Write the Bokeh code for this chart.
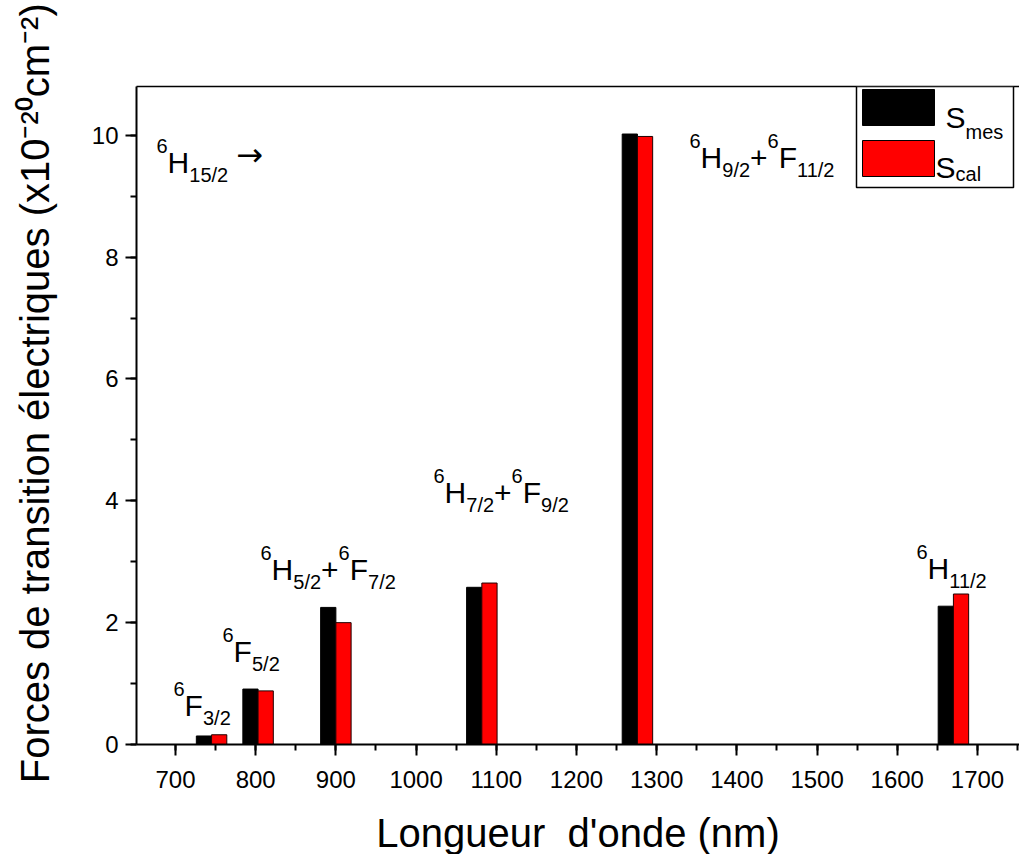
import math
from bokeh.plotting import figure
from bokeh.models import (Range1d, SingleIntervalTicker, FixedTicker, LinearAxis,
                          Label, BoxAnnotation, ColumnDataSource)
from bokeh.transform import dodge
from bokeh.embed import file_html
from bokeh.resources import INLINE

# ---------------- data ----------------
wavelength_nm = [745, 803, 900, 1082, 1276, 1670]
s_mes = [0.14, 0.91, 2.25, 2.58, 10.02, 2.27]
s_cal = [0.16, 0.88, 2.00, 2.65, 9.98, 2.47]
series_names = ["mes", "cal"]
x_tick_interval = 100
y_tick_interval = 2
x_title = "Longueur\u00a0 d'onde (nm)"
y_title = "Forces de transition électriques (x10⁻²⁰cm⁻²)"

# ---------------- layout ----------------
FONT = "Liberation Sans"
BAR_W = 19
FRAME_L, FRAME_R, FRAME_T, FRAME_B = 136, 1019, 86, 744   # canvas pixels
FW, FH = FRAME_R - FRAME_L, FRAME_B - FRAME_T
PX_PER_NM = 0.802
X_START = 651.4
X_END = X_START + FW / PX_PER_NM
Y_START, Y_END = 0.0, 10.8


def px2x(px):
    return X_START + (px - FRAME_L) * (X_END - X_START) / FW


def px2y(py):
    return Y_START + (FRAME_B - py) * (Y_END - Y_START) / FH


# Arial / Liberation Sans advance widths (1/1000 em)
W = {' ': 278, '(': 333, ')': 333, '+': 584, '-': 333, '/': 278, "'": 191,
     'F': 611, 'H': 722, 'L': 556, 'S': 667, 'a': 556, 'c': 500, 'd': 556,
     'e': 556, 'é': 556, 'g': 556, 'i': 222, 'l': 222, 'm': 833, 'n': 556,
     'o': 556, 'q': 556, 'r': 333, 's': 500, 't': 278, 'u': 556, 'x': 500}


def tw(s, size):
    return sum(W.get(c, 556) for c in s) * size / 1000.0


p = figure(frame_width=FW, frame_height=FH,
           x_range=Range1d(X_START, X_END), y_range=Range1d(Y_START, Y_END),
           output_backend="svg", toolbar_location=None,
           min_border_left=FRAME_L, min_border_right=0,
           min_border_top=FRAME_T, min_border_bottom=854 - FRAME_B)
p.outline_line_color = None
p.grid.visible = False
p.background_fill_color = "white"
p.border_fill_color = "white"

for ax in (p.xaxis[0], p.yaxis[0]):
    ax.axis_line_width = 2
    ax.axis_line_color = "black"
    ax.major_tick_line_width = 2
    ax.minor_tick_line_width = 2
    ax.major_tick_line_color = "black"
    ax.minor_tick_line_color = "black"
    ax.major_tick_in = 0
    ax.minor_tick_in = 0
    ax.major_tick_out = 11
    ax.minor_tick_out = 6
    ax.major_label_text_font = FONT
    ax.major_label_text_font_size = "24px"
    ax.major_label_text_color = "black"
    ax.axis_label_text_font = FONT
    ax.axis_label_text_font_style = "normal"
    ax.axis_label_text_color = "black"

p.xaxis.ticker = SingleIntervalTicker(interval=x_tick_interval, num_minor_ticks=2)
p.yaxis.ticker = SingleIntervalTicker(interval=y_tick_interval, num_minor_ticks=2)
p.xaxis.major_label_standoff = 15
p.yaxis.major_label_standoff = 7

p.xaxis.axis_label = x_title
p.xaxis.axis_label_text_font_size = "40px"
p.xaxis.axis_label_standoff = 20
# leading no-break spaces shift the rotated title upwards, as in the original
p.yaxis.axis_label = "\u00a0\u00a0\u00a0\u00a0" + y_title
p.yaxis.axis_label_text_font_size = "40px"
p.yaxis.axis_label_standoff = 32

top_axis = LinearAxis(ticker=FixedTicker(ticks=[]), major_tick_line_color=None,
                      minor_tick_line_color=None, axis_line_width=1.5,
                      axis_line_color="black")
p.add_layout(top_axis, "above")

src = ColumnDataSource(dict(wl=wavelength_nm, mes=s_mes, cal=s_cal))
p.vbar(x=dodge("wl", -BAR_W / 2, range=p.x_range), top="mes", bottom=0,
       width=BAR_W, source=src, fill_color="black", line_color="black",
       line_width=1)
p.vbar(x=dodge("wl", BAR_W / 2, range=p.x_range), top="cal", bottom=0,
       width=BAR_W, source=src, fill_color="#ff0000", line_color="#200000",
       line_width=1)


def rich(parts, left_px, base_px, base=30, small=20, sup=-17, sub=12):
    x = left_px
    for txt, kind in parts:
        size = base if kind == "b" else small
        dy = {"b": 0, "sup": sup, "sub": sub}[kind]
        p.add_layout(Label(x=px2x(x), y=px2y(base_px + dy), text=txt,
                           text_font=FONT, text_font_size=f"{size}px",
                           text_color="black", text_align="left",
                           text_baseline="alphabetic"))
        x += tw(txt, size)
    return x


# transition labels
end = rich([("6", "sup"), ("H", "b"), ("15/2", "sub")], 156, 162)
p.add_layout(Label(x=px2x(end + 8), y=px2y(154), text="→", text_font="DejaVu Sans",
                   text_font_size="32px", text_color="black",
                   text_baseline="alphabetic"))
rich([("6", "sup"), ("F", "b"), ("3/2", "sub")], 173, 705)
rich([("6", "sup"), ("F", "b"), ("5/2", "sub")], 222, 651)
rich([("6", "sup"), ("H", "b"), ("5/2", "sub"), ("+", "b"),
      ("6", "sup"), ("F", "b"), ("7/2", "sub")], 260, 569)
rich([("6", "sup"), ("H", "b"), ("7/2", "sub"), ("+", "b"),
      ("6", "sup"), ("F", "b"), ("9/2", "sub")], 433, 492)
rich([("6", "sup"), ("H", "b"), ("9/2", "sub"), ("+", "b"),
      ("6", "sup"), ("F", "b"), ("11/2", "sub")], 689, 157)
rich([("6", "sup"), ("H", "b"), ("11/2", "sub")], 916, 568)

# legend (drawn by hand to allow subscripts)
p.add_layout(BoxAnnotation(left=px2x(856), right=px2x(1013), top=px2y(86),
                           bottom=px2y(187), fill_color="white", fill_alpha=1,
                           line_color="black", line_alpha=1, line_width=1.5))
p.add_layout(BoxAnnotation(left=px2x(862), right=px2x(934), top=px2y(89),
                           bottom=px2y(125), fill_color="black", fill_alpha=1,
                           line_color="black", line_alpha=1, line_width=1))
p.add_layout(BoxAnnotation(left=px2x(862), right=px2x(934), top=px2y(140),
                           bottom=px2y(176), fill_color="#ff0000", fill_alpha=1,
                           line_color="black", line_alpha=1, line_width=1))
rich([("S", "b"), (series_names[0], "sub")], 945, 117, base=30, small=20, sub=14)
rich([("S", "b"), (series_names[1], "sub")], 935, 167, base=30, small=20, sub=6)

open("out.html", "w").write(file_html(p, INLINE))
